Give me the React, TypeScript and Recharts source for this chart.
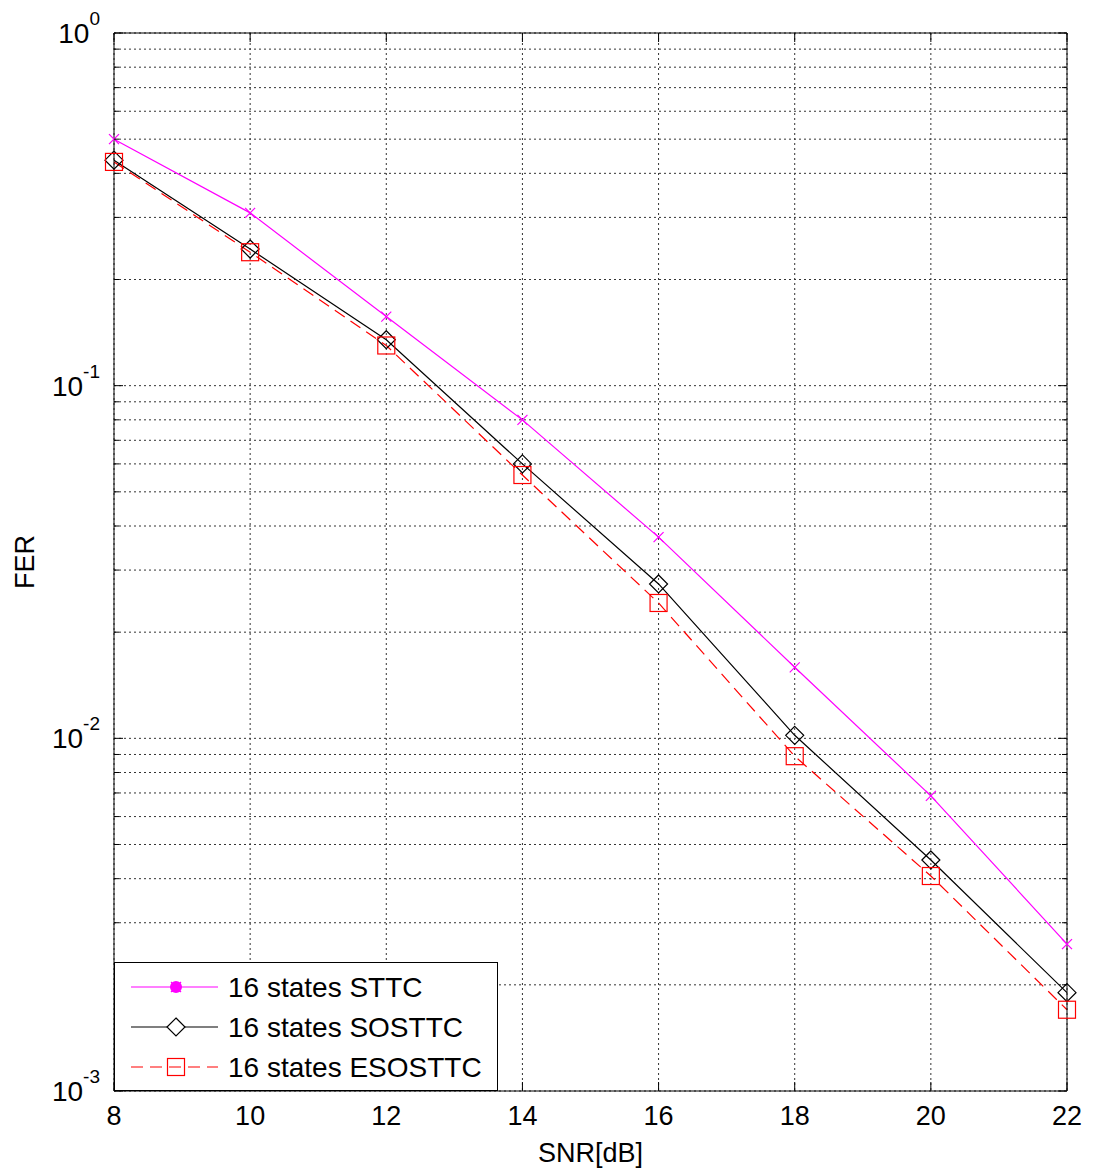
import { LineChart, Line, XAxis, YAxis, CartesianGrid, Legend } from "recharts";

const snr = [8, 10, 12, 14, 16, 18, 20, 22];
const sttc = [0.5, 0.309, 0.157, 0.08, 0.0372, 0.0159, 0.00687, 0.00261];
const sosttc = [0.436, 0.244, 0.135, 0.06, 0.0274, 0.0102, 0.00452, 0.0019];
const esosttc = [0.431, 0.239, 0.13, 0.0558, 0.0242, 0.0089, 0.00407, 0.0017];
const seriesNames = ["16 states STTC", "16 states SOSTTC", "16 states ESOSTTC"];
const xTicks = [8, 10, 12, 14, 16, 18, 20, 22];
const yMajor = [0.001, 0.01, 0.1, 1];
const yMinorSteps = [2, 3, 4, 5, 6, 7, 8, 9];

const data = snr.map((x, i) => ({ snr: x, sttc: sttc[i], sosttc: sosttc[i], esosttc: esosttc[i] }));
const yTicks = yMajor.flatMap((d) =>
  d === 1 ? [1] : [d, ...yMinorSteps.map((m) => +(d * m).toPrecision(3))]
);
const isMajor = (v: number) => Math.abs(Math.log10(v) - Math.round(Math.log10(v))) < 1e-6;

const FONT = "'Liberation Sans', Arial, sans-serif";
const MAGENTA = "#FF00FF";
const RED = "#FF0000";

const Cross = ({ cx, cy }: any) => (
  <g stroke={MAGENTA} strokeWidth={1.2}>
    <line x1={cx - 5} y1={cy - 5} x2={cx + 5} y2={cy + 5} />
    <line x1={cx - 5} y1={cy + 5} x2={cx + 5} y2={cy - 5} />
  </g>
);
const Diamond = ({ cx, cy }: any) => (
  <polygon
    points={`${cx},${cy - 9} ${cx + 9},${cy} ${cx},${cy + 9} ${cx - 9},${cy}`}
    fill="none"
    stroke="#000"
    strokeWidth={1.2}
  />
);
const Square = ({ cx, cy }: any) => (
  <rect x={cx - 8.5} y={cy - 8.5} width={17} height={17} fill="none" stroke={RED} strokeWidth={1.2} />
);

const LeftTick = ({ x, y, payload }: any) => {
  const major = isMajor(payload.value);
  const exp = Math.round(Math.log10(payload.value));
  return (
    <g>
      <line x1={x} y1={y} x2={x + (major ? 9 : 5)} y2={y} stroke="#000" />
      {major && (
        <text x={x - 14} y={y + 10} textAnchor="end" fontFamily={FONT} fontSize={28} fill="#000">
          10
          <tspan dy={-18} fontSize={19}>{exp}</tspan>
        </text>
      )}
    </g>
  );
};
const RightTick = ({ x, y, payload }: any) => (
  <line x1={x} y1={y} x2={x - (isMajor(payload.value) ? 9 : 5)} y2={y} stroke="#000" />
);
const BottomTick = ({ x, y, payload }: any) => (
  <g>
    <line x1={x} y1={y} x2={x} y2={y - 9} stroke="#000" />
    <text x={x} y={y + 34} textAnchor="middle" fontFamily={FONT} fontSize={27} fill="#000">
      {payload.value}
    </text>
  </g>
);
const TopTick = ({ x, y }: any) => <line x1={x} y1={y} x2={x} y2={y + 9} stroke="#000" />;

const LegendBox = () => {
  const rows = [25, 65, 105];
  return (
    <svg width={384} height={130} style={{ display: "block" }}>
      <rect x={0.5} y={0.5} width={383} height={128} fill="#fff" stroke="#000" />
      <line x1={17} y1={rows[0]} x2={104} y2={rows[0]} stroke={MAGENTA} strokeWidth={1.2} />
      <circle cx={62} cy={rows[0]} r={6} fill={MAGENTA} />
      <Cross cx={62} cy={rows[0]} />
      <line x1={17} y1={rows[1]} x2={104} y2={rows[1]} stroke="#000" strokeWidth={1.2} />
      <polygon
        points={`62,${rows[1] - 9} 71,${rows[1]} 62,${rows[1] + 9} 53,${rows[1]}`}
        fill="#fff"
        stroke="#000"
        strokeWidth={1.2}
      />
      <line x1={17} y1={rows[2]} x2={104} y2={rows[2]} stroke={RED} strokeWidth={1.2} strokeDasharray="12 7" />
      <Square cx={62} cy={rows[2]} />
      {seriesNames.map((n, i) => (
        <text key={n} x={114} y={rows[i] + 10} fontFamily={FONT} fontSize={28} fill="#000">
          {n}
        </text>
      ))}
    </svg>
  );
};

export default function App() {
  return (
    <LineChart
      width={1080}
      height={1160}
      data={data}
      margin={{ top: 5, right: 1, left: 0, bottom: 0 }}
      style={{ fontFamily: FONT, background: "#fff" }}
    >
      <CartesianGrid stroke="#333" strokeDasharray="2 3" xAxisId={0} yAxisId={0} />
      <XAxis
        dataKey="snr"
        type="number"
        domain={[8, 22]}
        ticks={xTicks}
        interval={0}
        height={77}
        tickSize={0}
        tickMargin={0}
        tickLine={false}
        tick={<BottomTick />}
        axisLine={{ stroke: "#000" }}
        label={(p: any) => (
          <text
            x={p.viewBox.x + p.viewBox.width / 2}
            y={p.viewBox.y + 71}
            textAnchor="middle"
            fontFamily={FONT}
            fontSize={27}
            fill="#000"
          >
            SNR[dB]
          </text>
        )}
      />
      <XAxis
        xAxisId="t"
        orientation="top"
        dataKey="snr"
        type="number"
        domain={[8, 22]}
        ticks={xTicks}
        interval={0}
        height={20}
        tickSize={0}
        tickMargin={0}
        tickLine={false}
        tick={<TopTick />}
        axisLine={{ stroke: "#000" }}
      />
      <YAxis
        type="number"
        scale="log"
        domain={[0.001, 1]}
        allowDataOverflow
        ticks={yTicks}
        interval={0}
        width={106}
        tickSize={0}
        tickMargin={0}
        tickLine={false}
        tick={<LeftTick />}
        axisLine={{ stroke: "#000" }}
        label={(p: any) => (
          <text
            x={p.viewBox.x + 26}
            y={p.viewBox.y + p.viewBox.height / 2}
            textAnchor="middle"
            fontFamily={FONT}
            fontSize={27}
            fill="#000"
            transform={`rotate(-90 ${p.viewBox.x + 26} ${p.viewBox.y + p.viewBox.height / 2})`}
          >
            FER
          </text>
        )}
      />
      <YAxis
        yAxisId="r"
        orientation="right"
        type="number"
        scale="log"
        domain={[0.001, 1]}
        allowDataOverflow
        ticks={yTicks}
        interval={0}
        width={20}
        tickSize={0}
        tickMargin={0}
        tickLine={false}
        tick={<RightTick />}
        axisLine={{ stroke: "#000" }}
      />
      <Line
        dataKey="sttc"
        name={seriesNames[0]}
        type="linear"
        stroke={MAGENTA}
        strokeWidth={1.2}
        isAnimationActive={false}
        activeDot={false}
        dot={(p: any) => <Cross key={`a${p.index}`} cx={p.cx} cy={p.cy} />}
      />
      <Line
        dataKey="sosttc"
        name={seriesNames[1]}
        type="linear"
        stroke="#000"
        strokeWidth={1.2}
        isAnimationActive={false}
        activeDot={false}
        dot={(p: any) => <Diamond key={`b${p.index}`} cx={p.cx} cy={p.cy} />}
      />
      <Line
        dataKey="esosttc"
        name={seriesNames[2]}
        type="linear"
        stroke={RED}
        strokeWidth={1.2}
        strokeDasharray="12 7"
        isAnimationActive={false}
        activeDot={false}
        dot={(p: any) => <Square key={`c${p.index}`} cx={p.cx} cy={p.cy} />}
      />
      <Legend
        layout="vertical"
        align="center"
        verticalAlign="middle"
        content={<LegendBox />}
        wrapperStyle={{ left: 106, top: 954, width: 384, height: 130 }}
      />
    </LineChart>
  );
}
